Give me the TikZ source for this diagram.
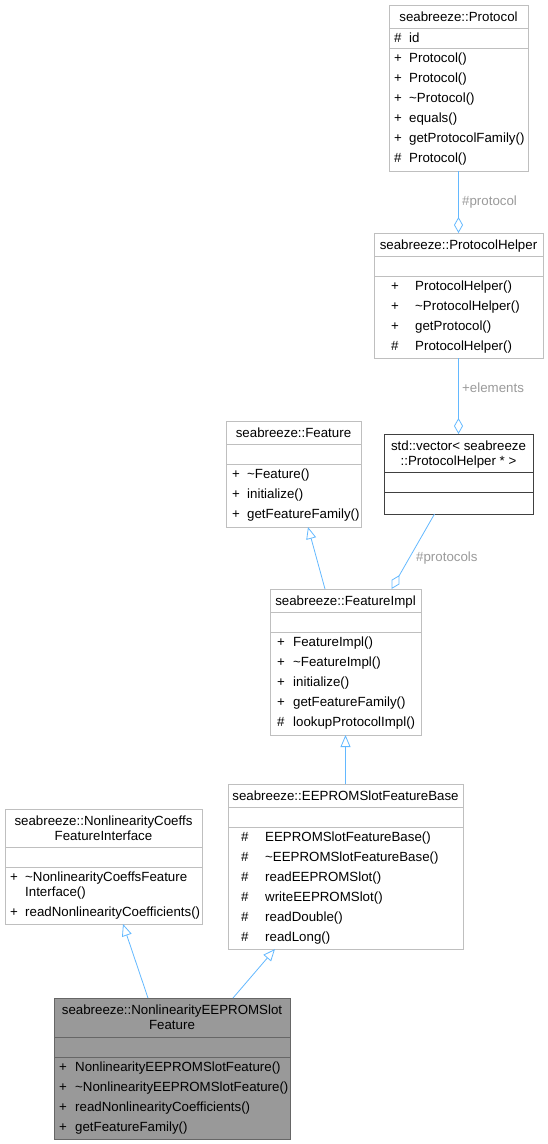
\documentclass[tikz,border=0pt]{standalone}
\usepackage{fontspec}
\setmainfont{Liberation Sans}
\usetikzlibrary{arrows.meta}
\definecolor{edgeblue}{HTML}{63B8FF}
\definecolor{boxgray}{HTML}{BFBFBF}
\definecolor{labelgray}{HTML}{9A9A9A}
\definecolor{darkline}{HTML}{404040}
\definecolor{hilitefill}{HTML}{999999}
\definecolor{hiliteline}{HTML}{666666}
\tikzset{
	classbox/.style  = {draw=boxgray, line width=0.8pt, rectangle, anchor=north west,
		inner sep=0pt, outer sep=0pt},
	divider/.style   = {draw=boxgray, line width=0.8pt},
	titletext/.style = {anchor=base, inner sep=0pt}, % class name
	vis/.style       = {anchor=base west, inner sep=0pt}, % + or #
	member/.style    = {anchor=base west, inner sep=0pt},
	inherit/.style   = {draw=edgeblue, line width=0.8pt,
		-{Triangle[open, length=12pt, width=10pt]}},
	aggr/.style      = {draw=edgeblue, line width=0.8pt,
		-{Diamond[open, length=16pt, width=9pt]}},
	rolelabel/.style = {anchor=base west, inner sep=0pt, text=labelgray}
}
\newcommand{\umlfont}{\fontsize{13.3}{15}\selectfont}
\newcommand{\tld}{\textasciitilde}

\begin{document}
\begin{tikzpicture}[x=1pt, y=-1pt, font=\umlfont]
	\useasboundingbox (0,0) rectangle (548,1144);

	% seabreeze::Protocol
	\node[classbox, minimum width=139pt, minimum height=166pt] (protocol) at (389,5) {};
	\node[titletext] (protocolT) at (458.5,21.3) {seabreeze::Protocol};
	\draw[divider] ([yshift=-23pt]protocol.north west) -- ([yshift=-23pt]protocol.north east);
	\draw[divider] ([yshift=-43pt]protocol.north west) -- ([yshift=-43pt]protocol.north east);
	\node[vis] (protocolV0) at (394,42.8) {\#};
	\node[member] (protocolA0) at (409,42.8) {id};
	\foreach \v/\m [count=\i from 0] in {+/Protocol(), +/Protocol(), +/\tld Protocol(),
		+/equals(), +/getProtocolFamily(), \#/Protocol()}{
		\node[vis] (protocolV\i) at (394,62.3+20*\i) {\v};
		\node[member] (protocolM\i) at (409,62.3+20*\i) {\m};
	}

	% seabreeze::ProtocolHelper
	\node[classbox, minimum width=169pt, minimum height=125pt] (helper) at (374,233) {};
	\node[titletext] (helperT) at (458.5,249.3) {seabreeze::ProtocolHelper};
	\draw[divider] ([yshift=-23pt]helper.north west) -- ([yshift=-23pt]helper.north east);
	\draw[divider] ([yshift=-43pt]helper.north west) -- ([yshift=-43pt]helper.north east);
	\foreach \v/\m [count=\i from 0] in {+/ProtocolHelper(), +/\tld ProtocolHelper(),
		+/getProtocol(), \#/ProtocolHelper()}{
		\node[vis] (helperV\i) at (391,290.3+20*\i) {\v};
		\node[member] (helperM\i) at (415,290.3+20*\i) {\m};
	}

	% std::vector
	\node[classbox, draw=darkline, minimum width=149pt, minimum height=80pt] (vector) at (384,434) {};
	\node[titletext] (vectorT1) at (458.5,450.3) {std::vector< seabreeze};
	\node[titletext] (vectorT2) at (458.5,465.3) {::ProtocolHelper * >};
	\draw[divider, draw=darkline] ([yshift=-38pt]vector.north west) -- ([yshift=-38pt]vector.north east);
	\draw[divider, draw=darkline] ([yshift=-58pt]vector.north west) -- ([yshift=-58pt]vector.north east);

	% seabreeze::Feature
	\node[classbox, minimum width=135pt, minimum height=106pt] (feature) at (226,421) {};
	\node[titletext] (featureT) at (293.5,437.3) {seabreeze::Feature};
	\draw[divider] ([yshift=-23pt]feature.north west) -- ([yshift=-23pt]feature.north east);
	\draw[divider] ([yshift=-43pt]feature.north west) -- ([yshift=-43pt]feature.north east);
	\foreach \m [count=\i from 0] in {\tld Feature(), initialize(), getFeatureFamily()}{
		\node[vis] (featureV\i) at (232,478.3+20*\i) {+};
		\node[member] (featureM\i) at (247,478.3+20*\i) {\m};
	}

	% seabreeze::FeatureImpl
	\node[classbox, minimum width=151pt, minimum height=146pt] (impl) at (270,589) {};
	\node[titletext] (implT) at (345.5,605.3) {seabreeze::FeatureImpl};
	\draw[divider] ([yshift=-23pt]impl.north west) -- ([yshift=-23pt]impl.north east);
	\draw[divider] ([yshift=-43pt]impl.north west) -- ([yshift=-43pt]impl.north east);
	\foreach \v/\m [count=\i from 0] in {+/FeatureImpl(), +/\tld FeatureImpl(), +/initialize(),
		+/getFeatureFamily(), \#/lookupProtocolImpl()}{
		\node[vis] (implV\i) at (277,646.3+20*\i) {\v};
		\node[member] (implM\i) at (293,646.3+20*\i) {\m};
	}

	% seabreeze::EEPROMSlotFeatureBase
	\node[classbox, minimum width=235pt, minimum height=165pt] (eeprom) at (228,784) {};
	\node[titletext] (eepromT) at (345.5,800.3) {seabreeze::EEPROMSlotFeatureBase};
	\draw[divider] ([yshift=-23pt]eeprom.north west) -- ([yshift=-23pt]eeprom.north east);
	\draw[divider] ([yshift=-43pt]eeprom.north west) -- ([yshift=-43pt]eeprom.north east);
	\foreach \m [count=\i from 0] in {EEPROMSlotFeatureBase(), \tld EEPROMSlotFeatureBase(),
		readEEPROMSlot(), writeEEPROMSlot(), readDouble(), readLong()}{
		\node[vis] (eepromV\i) at (241,841.3+20*\i) {\#};
		\node[member] (eepromM\i) at (265,841.3+20*\i) {\m};
	}

	% seabreeze::NonlinearityCoeffsFeatureInterface
	\node[classbox, minimum width=197pt, minimum height=115pt] (coeffs) at (5,809) {};
	\node[titletext] (coeffsT1) at (103.5,825.3) {seabreeze::NonlinearityCoeffs};
	\node[titletext] (coeffsT2) at (103.5,840.3) {FeatureInterface};
	\draw[divider] ([yshift=-38pt]coeffs.north west) -- ([yshift=-38pt]coeffs.north east);
	\draw[divider] ([yshift=-58pt]coeffs.north west) -- ([yshift=-58pt]coeffs.north east);
	\node[vis] (coeffsV0) at (10,881.3) {+};
	\node[member] (coeffsM0) at (25,881.3) {\tld NonlinearityCoeffsFeature};
	\node[member] (coeffsM0b) at (25,896.3) {Interface()};
	\node[vis] (coeffsV1) at (10,916.3) {+};
	\node[member] (coeffsM1) at (25,916.3) {readNonlinearityCoefficients()};

	% seabreeze::NonlinearityEEPROMSlotFeature
	\node[classbox, fill=hilitefill, draw=hiliteline, minimum width=236pt, minimum height=141pt] (nonlin) at (54,998) {};
	\node[titletext] (nonlinT1) at (172,1014.3) {seabreeze::NonlinearityEEPROMSlot};
	\node[titletext] (nonlinT2) at (172,1029.3) {Feature};
	\draw[divider, draw=hiliteline] ([yshift=-39pt]nonlin.north west) -- ([yshift=-39pt]nonlin.north east);
	\draw[divider, draw=hiliteline] ([yshift=-59pt]nonlin.north west) -- ([yshift=-59pt]nonlin.north east);
	\foreach \m [count=\i from 0] in {NonlinearityEEPROMSlotFeature(), \tld NonlinearityEEPROMSlotFeature(),
		readNonlinearityCoefficients(), getFeatureFamily()}{
		\node[vis] (nonlinV\i) at (59,1071.3+20*\i) {+};
		\node[member] (nonlinM\i) at (75,1071.3+20*\i) {\m};
	}

	% connectors
	\draw[aggr] (protocol.south) -- (helper.north);
	\draw[aggr] (helper.south) -- (vector.north);
	\draw[aggr] ([xshift=-24pt]vector.south) -- ([xshift=46pt]impl.north);
	\draw[inherit] ([xshift=-20.5pt]impl.north) -- ([xshift=14.5pt]feature.south);
	\draw[inherit] (eeprom.north) -- (impl.south);
	\draw[inherit] ([xshift=-24pt]nonlin.north) -- ([xshift=19.5pt]coeffs.south);
	\draw[inherit] ([xshift=61pt]nonlin.north) -- ([xshift=-70.5pt]eeprom.south);

	\node[rolelabel] (protocolL) at (462,205) {\#protocol};
	\node[rolelabel] (elementsL) at (462,392.5) {+elements};
	\node[rolelabel] (protocolsL) at (416,561) {\#protocols};
\end{tikzpicture}
\end{document}
